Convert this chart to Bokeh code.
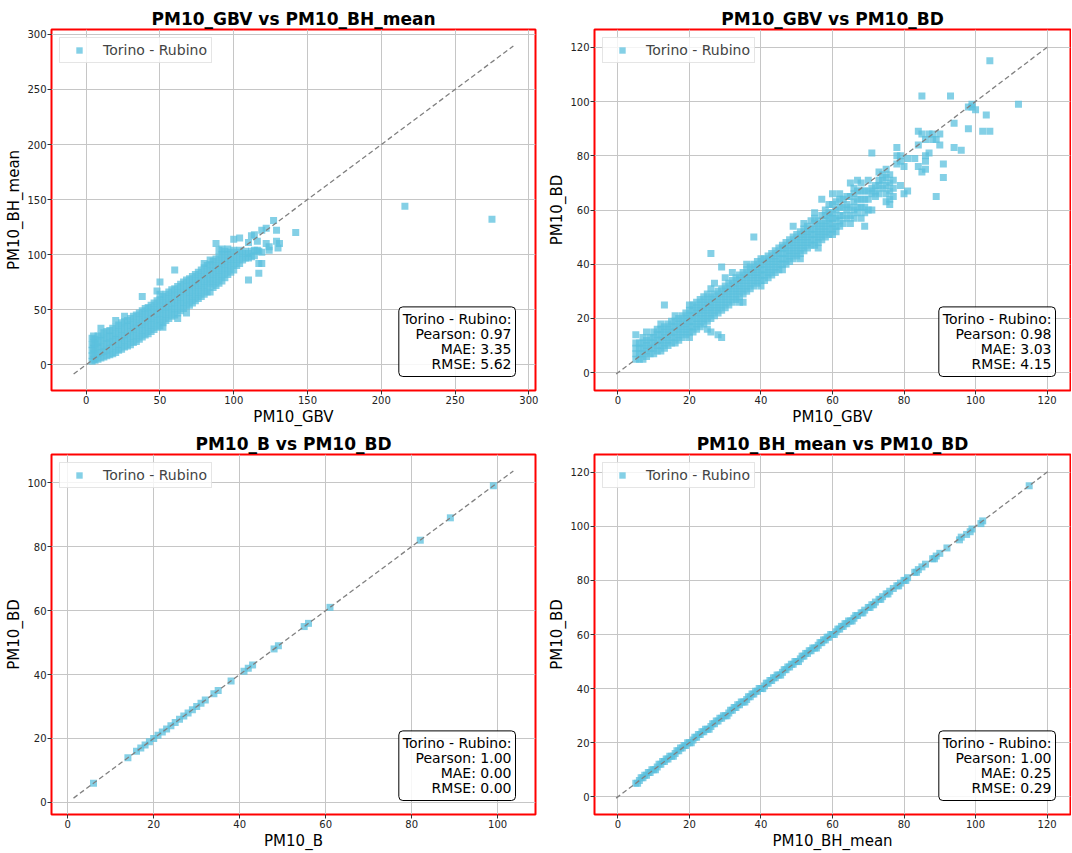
from bokeh.plotting import figure
from bokeh.layouts import column, row
from bokeh.models import Range1d, Label, FixedTicker
from bokeh.embed import file_html
from bokeh.resources import INLINE

# ---------------- data ----------------
station = "Torino - Rubino"

# Panel 1: PM10_GBV vs PM10_BH_mean (one line per GBV value)
gbv_1 = [
    4, 4, 4, 4, 4,
    5, 5, 5, 5, 5,
    6, 6, 6, 6, 6,
    8, 8, 8, 8, 8,
    10, 10, 10, 10, 10, 10,
    12, 12, 12, 12, 12,
    14, 14, 14, 14, 14,
    16, 16, 16, 16, 16,
    18, 18, 18, 18, 18,
    20, 20, 20, 20, 20, 20,
    22, 22, 22, 22, 22,
    24, 24, 24, 24, 24,
    26, 26, 26, 26, 26, 26,
    28, 28, 28, 28, 28,
    30, 30, 30, 30, 30,
    32, 32, 32, 32, 32,
    34, 34, 34, 34, 34,
    36, 36, 36, 36, 36,
    38, 38, 38, 38, 38, 38,
    40, 40, 40, 40, 40,
    42, 42, 42, 42, 42,
    44, 44, 44, 44, 44,
    46, 46, 46, 46, 46,
    48, 48, 48, 48, 48, 48,
    50, 50, 50, 50, 50, 50, 50,
    52, 52, 52, 52, 52, 52,
    54, 54, 54, 54, 54,
    56, 56, 56, 56, 56,
    58, 58, 58, 58, 58,
    60, 60, 60, 60, 60, 60,
    62, 62, 62, 62, 62, 62,
    64, 64, 64, 64, 64,
    66, 66, 66, 66, 66,
    68, 68, 68, 68, 68, 68,
    70, 70, 70, 70, 70,
    72, 72, 72, 72, 72,
    74, 74, 74, 74, 74,
    76, 76, 76, 76, 76,
    78, 78, 78, 78, 78,
    80, 80, 80, 80, 80, 80,
    82, 82, 82, 82, 82,
    84, 84, 84, 84, 84, 84,
    86, 86, 86, 86, 86,
    88, 88, 88, 88, 88, 88,
    90, 90, 90, 90, 90, 90,
    92, 92, 92, 92, 92, 92,
    94, 94, 94, 94, 94,
    96, 96, 96, 96, 96,
    98, 98, 98, 98,
    100, 100, 100, 100, 100,
    102, 102, 102,
    104, 104, 104, 104,
    106, 106,
    108, 108,
    110, 110, 110, 110,
    112, 112, 112,
    114, 114, 114,
    116, 116,
    117, 117, 117,
    119, 119, 119,
    122, 122,
    124, 124,
    127,
    129, 129,
    130,
    131,
    142,
    216,
    275,
]
bh_mean_1 = [
    3, 8, 13, 18, 24,
    5, 10, 15, 20, 26,
    4, 9, 14, 19, 23,
    5, 10, 16, 20, 26,
    6, 11, 16, 22, 27, 33,
    7, 12, 17, 23, 29,
    8, 13, 19, 24, 30,
    9, 15, 20, 26, 31,
    10, 16, 21, 27, 33,
    11, 17, 23, 28, 34, 40,
    13, 18, 24, 30, 36,
    14, 20, 26, 32, 38,
    16, 22, 27, 33, 39, 44,
    17, 23, 29, 35, 40,
    18, 24, 30, 36, 42,
    20, 26, 32, 38, 44,
    21, 27, 33, 39, 45,
    23, 29, 35, 41, 47,
    25, 31, 37, 43, 49, 62,
    27, 33, 39, 45, 51,
    28, 34, 40, 46, 52,
    30, 36, 42, 48, 54,
    32, 38, 44, 50, 56,
    34, 40, 46, 52, 58, 67,
    35, 41, 47, 53, 59, 64, 75,
    34, 38, 44, 50, 56, 62,
    40, 46, 52, 58, 64,
    42, 48, 54, 60, 66,
    44, 50, 56, 62, 68,
    45, 51, 57, 63, 69, 86,
    42, 47, 53, 59, 65, 71,
    49, 55, 61, 67, 73,
    51, 57, 63, 69, 75,
    47, 53, 59, 65, 71, 77,
    54, 60, 66, 72, 78,
    56, 62, 68, 74, 80,
    58, 64, 70, 76, 82,
    60, 66, 72, 78, 84,
    62, 68, 74, 80, 86,
    64, 70, 76, 82, 88, 92,
    66, 72, 78, 84, 90,
    66, 73, 79, 85, 91, 95,
    70, 76, 82, 88, 94,
    72, 78, 84, 90, 96, 110,
    74, 80, 86, 92, 98, 104,
    76, 82, 88, 94, 100, 105,
    79, 85, 91, 97, 103,
    82, 88, 94, 100, 105,
    84, 90, 96, 102,
    86, 92, 98, 104, 114,
    90, 96, 102,
    92, 98, 104, 115,
    95, 101,
    97, 103,
    77, 97, 101, 111,
    98, 103, 117,
    99, 104, 118,
    104, 112,
    83, 92, 103,
    92, 102, 122,
    110, 124,
    104, 107,
    131,
    112, 122,
    106,
    110,
    120,
    144,
    132,
]

# Panel 2: PM10_GBV vs PM10_BD (one line per GBV value)
gbv_2 = [
    5, 5, 5, 5, 5,
    6, 6, 6, 6,
    7, 7, 7, 7, 7,
    8, 8, 8, 8, 8,
    9, 9, 9, 9,
    10, 10, 10, 10, 10,
    11, 11, 11, 11, 11,
    12, 12, 12, 12, 12, 12,
    13, 13, 13, 13, 13, 13,
    14, 14, 14, 14, 14,
    15, 15, 15, 15, 15,
    16, 16, 16, 16, 16, 16,
    17, 17, 17, 17, 17,
    18, 18, 18, 18, 18,
    19, 19, 19, 19, 19,
    20, 20, 20, 20, 20, 20, 20,
    21, 21, 21, 21, 21, 21,
    22, 22, 22, 22, 22, 22,
    23, 23, 23, 23, 23, 23,
    24, 24, 24, 24, 24, 24,
    25, 25, 25, 25, 25, 25, 25,
    26, 26, 26, 26, 26, 26, 26, 26,
    27, 27, 27, 27, 27, 27,
    28, 28, 28, 28, 28, 28,
    29, 29, 29, 29, 29, 29, 29,
    30, 30, 30, 30, 30, 30,
    31, 31, 31, 31, 31,
    32, 32, 32, 32, 32, 32,
    33, 33, 33, 33, 33,
    34, 34, 34, 34, 34, 34,
    35, 35, 35, 35, 35, 35,
    36, 36, 36, 36, 36, 36,
    37, 37, 37, 37, 37,
    38, 38, 38, 38, 38, 38,
    39, 39, 39, 39, 39,
    40, 40, 40, 40, 40, 40,
    41, 41, 41, 41, 41,
    42, 42, 42, 42, 42,
    43, 43, 43, 43, 43,
    44, 44, 44, 44, 44,
    45, 45, 45, 45, 45,
    46, 46, 46, 46, 46, 46,
    47, 47, 47, 47, 47,
    48, 48, 48, 48, 48,
    49, 49, 49, 49, 49, 49,
    50, 50, 50, 50, 50,
    51, 51, 51, 51, 51, 51,
    52, 52, 52, 52, 52, 52,
    53, 53, 53, 53, 53,
    54, 54, 54, 54, 54,
    55, 55, 55, 55, 55, 55, 55,
    56, 56, 56, 56, 56, 56,
    57, 57, 57, 57, 57, 57,
    58, 58, 58, 58, 58, 58,
    59, 59, 59, 59, 59, 59,
    60, 60, 60, 60, 60, 60, 60,
    61, 61, 61, 61, 61,
    62, 62, 62, 62, 62, 62,
    63, 63, 63, 63,
    64, 64, 64, 64,
    65, 65, 65, 65, 65,
    66, 66, 66, 66, 66,
    67, 67, 67, 67, 67,
    68, 68, 68, 68, 68,
    69, 69, 69, 69, 69,
    70, 70, 70, 70,
    71, 71, 71, 71,
    72, 72, 72,
    73, 73, 73, 73,
    74, 74, 74,
    75, 75, 75, 75, 75,
    76, 76, 76, 76, 76,
    77, 77, 77,
    78, 78, 78,
    79, 79, 79,
    80, 80,
    81, 81,
    83,
    84, 84, 84,
    85, 85, 85,
    86, 86, 86, 86,
    87, 87,
    88, 88,
    89, 89,
    90, 90,
    91, 91,
    93,
    94, 94,
    96,
    98, 98,
    99, 99,
    100,
    102,
    103,
    104, 104,
    112,
]
bd_2 = [
    5, 7, 9, 11, 14,
    5, 7, 9, 11,
    5, 7, 9, 11, 13,
    6, 8, 10, 12, 15,
    7, 9, 11, 13,
    7, 9, 11, 13, 15,
    8, 10, 12, 14, 16,
    8, 10, 12, 14, 16, 18,
    9, 11, 13, 15, 17, 25,
    10, 12, 14, 16, 18,
    11, 13, 15, 17, 19,
    11, 13, 15, 17, 19, 21,
    12, 14, 16, 18, 20,
    13, 15, 17, 19, 21,
    14, 16, 18, 20, 22,
    13, 15, 17, 19, 21, 23, 25,
    15, 17, 19, 21, 23, 25,
    16, 18, 20, 22, 24, 26,
    17, 19, 21, 23, 25, 27,
    18, 20, 22, 24, 26, 28,
    16, 19, 21, 23, 25, 27, 29,
    15, 20, 22, 24, 26, 28, 31, 44,
    21, 23, 25, 27, 29, 33,
    14, 22, 24, 26, 28, 30,
    13, 23, 25, 27, 29, 31, 39,
    24, 26, 28, 30, 32, 35,
    25, 27, 29, 31, 33,
    26, 28, 30, 32, 34, 37,
    27, 29, 31, 33, 35,
    26, 28, 30, 32, 34, 36,
    26, 29, 31, 33, 35, 37,
    30, 32, 34, 36, 38, 40,
    31, 33, 35, 37, 39,
    32, 34, 36, 38, 40, 50,
    33, 35, 37, 39, 41,
    32, 34, 36, 38, 40, 42,
    34, 36, 38, 40, 42,
    35, 37, 39, 41, 43,
    36, 38, 40, 42, 44,
    37, 39, 41, 43, 45,
    38, 40, 42, 44, 46,
    38, 40, 42, 44, 46, 47,
    40, 42, 44, 46, 48,
    41, 43, 45, 47, 49,
    42, 44, 46, 48, 50, 54,
    43, 45, 47, 49, 51,
    42, 44, 46, 48, 50, 52,
    45, 47, 49, 51, 53, 55,
    46, 48, 50, 52, 54,
    47, 49, 51, 53, 56,
    47, 49, 51, 53, 55, 57, 59,
    46, 48, 50, 52, 54, 56,
    49, 51, 53, 55, 58, 64,
    50, 52, 54, 56, 58, 60,
    51, 53, 55, 57, 59, 62,
    51, 53, 55, 57, 59, 62, 66,
    52, 54, 57, 60, 63,
    54, 56, 58, 61, 64, 66,
    55, 58, 61, 64,
    57, 60, 62, 65,
    55, 58, 61, 65, 70,
    57, 60, 63, 66, 68,
    59, 61, 64, 67, 71,
    57, 61, 64, 67, 70,
    54, 59, 61, 64, 67,
    60, 64, 67, 71,
    60, 66, 68, 81,
    65, 67, 69,
    66, 69, 71, 74,
    68, 71, 73,
    63, 66, 69, 72, 75,
    62, 64, 67, 70, 73,
    65, 68, 71,
    77, 80, 83,
    69, 78, 80,
    66, 76,
    67, 79,
    79,
    76, 84, 89,
    74, 88, 102,
    75, 78, 80, 86,
    81, 88,
    86, 88,
    65, 86,
    84, 88,
    72, 77,
    102,
    83, 92,
    82,
    90, 98,
    98, 99,
    97,
    89,
    95,
    89, 115,
    99,
]

# Panel 3: PM10_B vs PM10_BD
b_3 = [6, 14, 16, 17, 18, 19, 20, 21, 22, 23, 24, 25, 26, 27, 28, 29, 30,
       31, 32, 34, 35, 38, 41, 42, 43, 48, 49, 55, 56, 61, 82, 89, 99]
bd_3 = [6, 14, 16, 17, 18, 19, 20, 21, 22, 23, 24, 25, 26, 27, 28, 29, 30,
        31, 32, 34, 35, 38, 41, 42, 43, 48, 49, 55, 56, 61, 82, 89, 99]

# Panel 4: PM10_BH_mean vs PM10_BD
bh_mean_4 = [
    5, 5.5, 6, 6.5, 7, 7.5, 8, 8.5, 9, 9.5,
    10, 10.5, 11, 11.5, 12, 12.5, 13, 13.5, 14, 14.5,
    15, 15.5, 16, 16.5, 17, 17.5, 18, 18.5, 19, 19.5,
    20, 20.5, 21, 21.5, 22, 22.5, 23, 23.5, 24, 24.5,
    25, 25.5, 26, 26.5, 27, 27.5, 28, 28.5, 29, 29.5,
    30, 30.5, 31, 31.5, 32, 32.5, 33, 33.5, 34, 34.5,
    35, 35.5, 36, 36.5, 37, 37.5, 38, 38.5, 39, 39.5,
    40, 40.5, 41, 41.5, 42, 42.5, 43, 43.5, 44, 44.5,
    45, 45.5, 46, 46.5, 47, 47.5, 48, 48.5, 49, 49.5,
    50, 50.5, 51, 51.5, 52, 52.5, 53, 53.5, 54, 54.5,
    55, 55.5, 56, 56.5, 57, 57.5, 58, 58.5, 59, 59.5,
    60, 60.5, 61, 61.5, 62, 62.5, 63, 63.5, 64, 64.5,
    65, 65.5, 66, 66.5, 67, 68, 68.5, 69, 70, 70.5,
    71, 71.5, 72, 73, 73.5, 74, 75, 75.5, 76, 77,
    78, 78.5, 79, 80, 80.5, 81, 83, 83.5, 84, 85,
    86, 88, 88.5, 89, 90, 92, 95.5, 96, 97.5, 98.5,
    99, 101.5, 102, 115,
]
bd_4 = [
    5, 5, 6, 7, 7, 8, 8, 9, 9, 10,
    10, 10, 11, 12, 12, 13, 13, 14, 14, 15,
    15, 15, 16, 17, 17, 18, 18, 19, 19, 20,
    20, 20, 21, 22, 22, 23, 23, 24, 24, 25,
    25, 25, 26, 27, 27, 28, 28, 29, 29, 30,
    30, 30, 31, 32, 32, 33, 33, 34, 34, 35,
    35, 35, 36, 37, 37, 38, 38, 39, 39, 40,
    40, 40, 41, 42, 42, 43, 43, 44, 44, 45,
    45, 45, 46, 47, 47, 48, 48, 49, 49, 50,
    50, 50, 51, 52, 52, 53, 53, 54, 54, 55,
    55, 55, 56, 57, 57, 58, 58, 59, 59, 60,
    60, 60, 61, 62, 62, 63, 63, 64, 64, 65,
    65, 65, 66, 67, 67, 68, 68, 69, 70, 70,
    71, 71, 72, 73, 73, 74, 75, 75, 76, 77,
    78, 78, 79, 80, 80, 81, 83, 83, 84, 85,
    86, 88, 88, 89, 90, 92, 95, 96, 97, 98,
    99, 101, 102, 115,
]

titles = ["PM10_GBV vs PM10_BH_mean", "PM10_GBV vs PM10_BD",
          "PM10_B vs PM10_BD", "PM10_BH_mean vs PM10_BD"]
x_labels = ["PM10_GBV", "PM10_GBV", "PM10_B", "PM10_BH_mean"]
y_labels = ["PM10_BH_mean", "PM10_BD", "PM10_BD", "PM10_BD"]
pearson = [0.97, 0.98, 1.00, 1.00]
mae = [3.35, 3.03, 0.00, 0.25]
rmse = [5.62, 4.15, 0.00, 0.29]

ticks_1 = [0, 50, 100, 150, 200, 250, 300]
ticks_2 = [0, 20, 40, 60, 80, 100, 120]
ticks_3 = [0, 20, 40, 60, 80, 100]
ticks_4 = [0, 20, 40, 60, 80, 100, 120]

# axis limits and 1:1 line extent (matplotlib-style 5% margins)
lims = [(-23.5, 304.5), (-6.55, 126.55), (-3.77, 108.8), (-6.55, 126.55)]
diag = [(-8.5, 289.5), (-0.5, 120.5), (1.35, 103.65), (-0.5, 120.5)]

# ---------------- styling ----------------
FONT = "DejaVu Sans"
POINT_COLOR = "#5bc0de"


def panel(i, xs, ys, ticks, width, height, left, right, top, bottom, stat_dx):
    lo, hi = lims[i]
    n = min(len(xs), len(ys))
    p = figure(width=width, height=height, output_backend="svg",
               toolbar_location=None, title=titles[i],
               x_range=Range1d(lo, hi), y_range=Range1d(lo, hi),
               min_border_left=left, min_border_right=right,
               min_border_top=top, min_border_bottom=bottom,
               background_fill_color="white", border_fill_color="white")
    p.title.text_font = FONT
    p.title.text_font_size = "17px"
    p.title.text_font_style = "bold"
    p.title.text_color = "black"
    p.title.align = "center"
    p.title.standoff = 1

    p.outline_line_color = "red"
    p.outline_line_width = 2
    p.outline_line_alpha = 1.0

    p.xaxis.ticker = FixedTicker(ticks=ticks)
    p.yaxis.ticker = FixedTicker(ticks=ticks)
    p.xgrid.ticker = FixedTicker(ticks=ticks)
    p.ygrid.ticker = FixedTicker(ticks=ticks)
    p.grid.grid_line_color = "#c6c6c6"
    p.grid.grid_line_width = 1

    p.xaxis.axis_label = x_labels[i]
    p.yaxis.axis_label = y_labels[i]
    for ax in p.axis:
        ax.axis_line_color = None
        ax.major_tick_line_color = "#333333"
        ax.major_tick_out = 4
        ax.major_tick_in = 0
        ax.minor_tick_line_color = None
        ax.major_label_text_font = FONT
        ax.major_label_text_font_size = "10px"
        ax.major_label_text_color = "#222222"
        ax.major_label_standoff = 1
        ax.axis_label_text_font = FONT
        ax.axis_label_text_font_size = "15px"
        ax.axis_label_text_font_style = "normal"
        ax.axis_label_text_color = "black"
        ax.axis_label_standoff = 1

    p.scatter(xs[:n], ys[:n], marker="square", size=7, fill_color=POINT_COLOR,
              fill_alpha=0.75, line_color=None, legend_label=station)
    d = list(diag[i])
    p.line(d, d, line_color="gray", line_dash="5 3", line_width=1.3)

    lg = p.legend[0]
    lg.location = "top_left"
    lg.margin = 8
    lg.padding = 4
    lg.spacing = 0
    lg.glyph_width = 30
    lg.glyph_height = 16
    lg.label_height = 16
    lg.label_standoff = 9
    lg.label_text_font = FONT
    lg.label_text_font_size = "14px"
    lg.border_line_color = "#cccccc"
    lg.border_line_width = 1
    lg.background_fill_alpha = 0.8

    frame_w = width - left - right
    txt = (f"{station}:\nPearson: {pearson[i]:.2f}\n"
           f"MAE: {mae[i]:.2f}\nRMSE: {rmse[i]:.2f}")
    lab = Label(x=frame_w - stat_dx, y=14, x_units="screen", y_units="screen",
                text=txt, text_align="right", text_baseline="bottom",
                text_font=FONT, text_font_size="14px", text_color="black",
                text_line_height=0.95,
                background_fill_color="white", background_fill_alpha=0.85,
                border_line_color="black", border_line_width=1,
                padding=4, border_radius=4)
    p.add_layout(lab)
    return p


p1 = panel(0, gbv_1, bh_mean_1, ticks_1, 543, 428, 51, 8, 29, 38, 20)
p2 = panel(1, gbv_2, bd_2, ticks_2, 528, 428, 51, 1, 29, 38, 15)
p3 = panel(2, b_3, bd_3, ticks_3, 543, 424, 51, 8, 26, 35, 20)
p4 = panel(3, bh_mean_4, bd_4, ticks_4, 528, 424, 51, 1, 26, 35, 15)

layout = column(row(p1, p2), row(p3, p4))
open("out.html", "w").write(file_html(layout, INLINE))
